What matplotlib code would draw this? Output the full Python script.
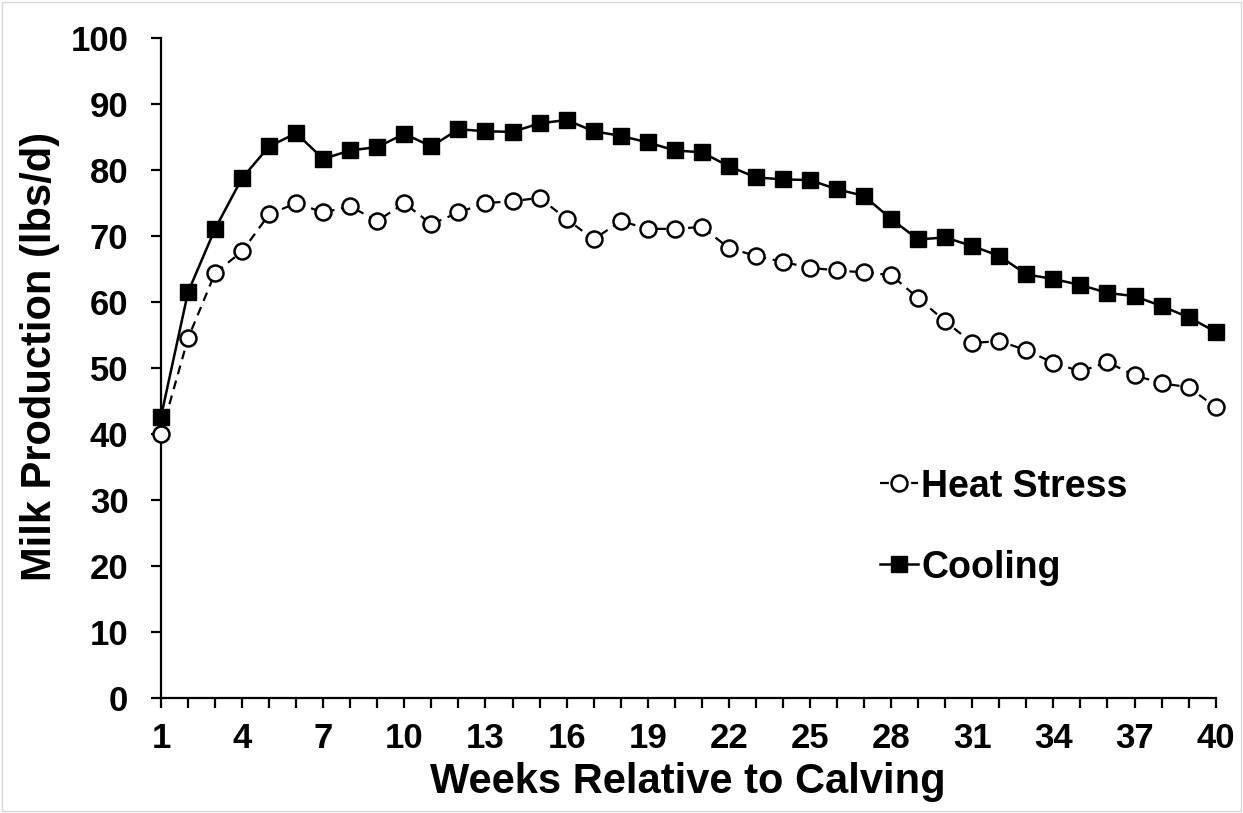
import matplotlib.pyplot as plt
from matplotlib.patches import Rectangle

plt.rcParams['font.family'] = ['Liberation Sans', 'DejaVu Sans']
plt.rcParams['font.weight'] = 'bold'

weeks = list(range(1, 41))

heat_stress = [40.0, 54.5, 64.4, 67.7, 73.3, 75.0, 73.6, 74.5, 72.3, 75.0,
               71.8, 73.6, 75.0, 75.3, 75.8, 72.6, 69.5, 72.3, 71.1, 71.1,
               71.4, 68.2, 67.0, 66.1, 65.2, 64.8, 64.5, 64.1, 60.6, 57.1,
               53.8, 54.1, 52.7, 50.8, 49.5, 50.9, 48.9, 47.7, 47.1, 44.1]

cooling = [42.6, 61.5, 71.1, 78.8, 83.6, 85.6, 81.7, 83.0, 83.5, 85.5,
           83.6, 86.2, 85.9, 85.8, 87.1, 87.6, 85.9, 85.2, 84.2, 83.0,
           82.7, 80.6, 78.9, 78.6, 78.5, 77.1, 76.1, 72.6, 69.5, 69.8,
           68.5, 67.0, 64.2, 63.5, 62.6, 61.4, 60.9, 59.4, 57.7, 55.5]

y_ticks = list(range(0, 101, 10))
x_labels = [str(w) if (w - 1) % 3 == 0 else "" for w in weeks]

fig = plt.figure(figsize=(12.43, 8.13), dpi=100)
ax = fig.add_axes([0.1295, 0.1415, 0.8485, 0.8115])

ax.plot(weeks, heat_stress, color="black", linestyle=(0, (4, 3)), linewidth=1.6,
        marker="o", markersize=11.5, markerfacecolor="white",
        markeredgecolor="black", markeredgewidth=1.8, clip_on=False,
        label="Heat Stress", zorder=3)
ax.plot(weeks, cooling, color="black", linestyle="-", linewidth=1.8,
        marker="s", markersize=12, markerfacecolor="black",
        markeredgecolor="black", clip_on=False, label="Cooling", zorder=4)

ax.set_xlim(1, 40)
ax.set_ylim(0, 100)
ax.set_xticks(weeks)
ax.set_xticklabels(x_labels)
ax.set_yticks(y_ticks)

for s in ["top", "right"]:
    ax.spines[s].set_visible(False)
for s in ["left", "bottom"]:
    ax.spines[s].set_linewidth(1.6)

ax.tick_params(axis="both", direction="out", length=7.5, width=1.6, labelsize=25)
ax.tick_params(axis="x", pad=10)
ax.tick_params(axis="y", pad=16)

ax.set_xlabel("Weeks Relative to Calving", fontsize=30, fontweight="bold", labelpad=5)
ax.set_ylabel("Milk Production (lbs/d)", fontsize=30, fontweight="bold")
ax.yaxis.set_label_coords(-0.0957, 0.517)

ax.legend(loc="center left", bbox_to_anchor=(880 / 1243, 1 - 527 / 813),
          bbox_transform=fig.transFigure, frameon=False,
          fontsize=27, handlelength=1.0, handletextpad=0.1,
          labelspacing=1.2, borderpad=0, borderaxespad=0)

fig.patches.append(Rectangle((0.002, 0.002), 0.996, 0.996, transform=fig.transFigure,
                             fill=False, edgecolor="#d9d9d9", linewidth=1))

fig.savefig("out.png", dpi=100)
